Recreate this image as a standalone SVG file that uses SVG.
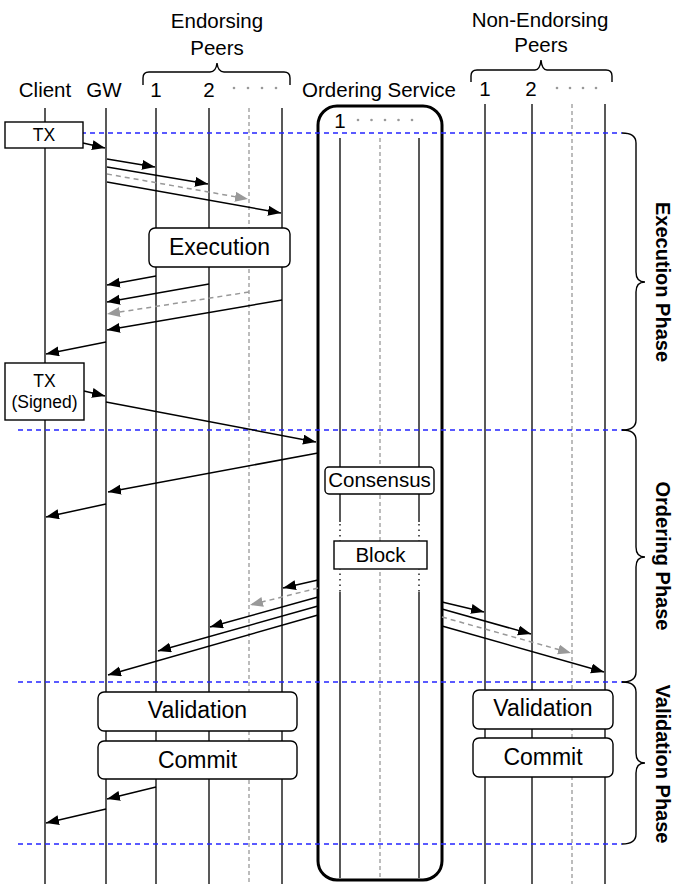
<svg xmlns="http://www.w3.org/2000/svg" width="676" height="884" viewBox="0 0 676 884">
<style>
text{font-family:"Liberation Sans",Arial,sans-serif;fill:#000}
.hd{font-size:20.5px;text-anchor:middle}
.bx{font-size:23px;text-anchor:middle}
.sm{font-size:17.5px;text-anchor:middle}
.ph{font-size:20px;font-weight:bold;text-anchor:middle}
.life{stroke:#222;stroke-width:1.5;fill:none}
.gl{stroke:#999;stroke-width:1.3;stroke-dasharray:4,3;fill:none}
.dot{stroke:#222;stroke-width:1.5;stroke-dasharray:1.5,4;fill:none}
.sep{stroke:#2424ff;stroke-width:1.5;stroke-dasharray:5,4;fill:none}
.brace{stroke:#000;stroke-width:1.4;fill:none}
.box{fill:#fff;stroke:#000;stroke-width:1.4}
.a{stroke:#000;stroke-width:1.5;fill:none;marker-end:url(#ah)}
.ag{stroke:#999;stroke-width:1.5;stroke-dasharray:5,4;fill:none;marker-end:url(#ahg)}
.gd{fill:#999}
</style>
<defs>
<marker id="ah" markerUnits="userSpaceOnUse" markerWidth="14" markerHeight="12" refX="13" refY="5" orient="auto"><path d="M0,0 L13,5 L0,10 Z" fill="#000"/></marker>
<marker id="ahg" markerUnits="userSpaceOnUse" markerWidth="14" markerHeight="12" refX="13" refY="5" orient="auto"><path d="M0,0 L13,5 L0,10 Z" fill="#999"/></marker>
</defs>
<rect width="676" height="884" fill="#fff"/>

<!-- headers -->
<g id="headers">
<text class="hd" x="217" y="28">Endorsing</text>
<text class="hd" x="217" y="55">Peers</text>
<path class="brace" d="M143,85 V78 Q143,72 149,72 H210 Q216,72 217,63 Q218,72 224,72 H284 Q290,72 290,78 V85"/>
<text class="hd" x="540" y="27">Non-Endorsing</text>
<text class="hd" x="541" y="52">Peers</text>
<path class="brace" d="M471,82 V76 Q471,70 477,70 H535 Q540,70 541,60 Q542,70 547,70 H606 Q612,70 612,76 V82"/>
<text class="hd" x="45" y="97">Client</text>
<text class="hd" x="104" y="97">GW</text>
<text class="hd" x="156" y="97">1</text>
<text class="hd" x="209" y="97">2</text>
<circle class="gd" cx="234" cy="88" r="1.3"/><circle class="gd" cx="248" cy="88" r="1.3"/><circle class="gd" cx="262" cy="88" r="1.3"/><circle class="gd" cx="276" cy="88" r="1.3"/>
<text class="hd" x="379" y="97">Ordering Service</text>
<text class="hd" x="485" y="96">1</text>
<text class="hd" x="531" y="96">2</text>
<circle class="gd" cx="557" cy="88" r="1.3"/><circle class="gd" cx="570" cy="88" r="1.3"/><circle class="gd" cx="583" cy="88" r="1.3"/><circle class="gd" cx="596" cy="88" r="1.3"/>
</g>

<!-- lifelines -->
<g id="lifelines">
<line class="life" x1="45" y1="108" x2="45" y2="884"/>
<line class="life" x1="106" y1="108" x2="106" y2="884"/>
<line class="life" x1="156" y1="108" x2="156" y2="884"/>
<line class="life" x1="209" y1="108" x2="209" y2="884"/>
<line class="gl" x1="249" y1="108" x2="249" y2="884"/>
<line class="life" x1="282" y1="108" x2="282" y2="884"/>
<line class="life" x1="485" y1="104" x2="485" y2="884"/>
<line class="life" x1="532" y1="104" x2="532" y2="884"/>
<line class="gl" x1="572" y1="104" x2="572" y2="884"/>
<line class="life" x1="605" y1="104" x2="605" y2="884"/>
</g>

<!-- ordering service -->
<g id="ordering">
<rect x="318" y="106" width="124" height="774" rx="19" fill="none" stroke="#000" stroke-width="3"/>
<text class="hd" x="340" y="128">1</text>
<circle class="gd" cx="358" cy="120" r="1.3"/><circle class="gd" cx="371.5" cy="120" r="1.3"/><circle class="gd" cx="385" cy="120" r="1.3"/><circle class="gd" cx="398.5" cy="120" r="1.3"/><circle class="gd" cx="412" cy="120" r="1.3"/>
<line class="life" x1="340" y1="138" x2="340" y2="522"/>
<line class="life" x1="419" y1="138" x2="419" y2="522"/>
<line class="dot" x1="340" y1="524" x2="340" y2="592"/>
<line class="dot" x1="419" y1="524" x2="419" y2="592"/>
<line class="life" x1="340" y1="592" x2="340" y2="878"/>
<line class="life" x1="419" y1="592" x2="419" y2="878"/>
<line class="gl" x1="380" y1="138" x2="380" y2="878"/>
</g>

<!-- phase separators and braces -->
<g id="phases">
<line class="sep" x1="18" y1="133" x2="622" y2="133"/>
<line class="sep" x1="18" y1="430" x2="622" y2="430"/>
<line class="sep" x1="18" y1="682" x2="622" y2="682"/>
<line class="sep" x1="18" y1="844" x2="622" y2="844"/>
<path class="brace" d="M622,133 Q636,133 636,143 V272 Q636,282 645,282 Q636,282 636,292 V420 Q636,430 622,430"/>
<path class="brace" d="M622,430 Q636,430 636,440 V547 Q636,557 645,557 Q636,557 636,567 V672 Q636,682 622,682"/>
<path class="brace" d="M622,682 Q636,682 636,692 V753 Q636,763 645,763 Q636,763 636,773 V834 Q636,844 622,844"/>
<text class="ph" transform="translate(656,282) rotate(90)">Execution Phase</text>
<text class="ph" transform="translate(656,556) rotate(90)">Ordering Phase</text>
<text class="ph" transform="translate(656,764) rotate(90)">Validation Phase</text>
</g>

<!-- connectors -->
<g id="connectors">
<line class="a" x1="83" y1="143" x2="105" y2="148"/>
<line class="a" x1="107" y1="159" x2="155" y2="167"/>
<line class="a" x1="107" y1="167" x2="208" y2="184"/>
<line class="ag" x1="107" y1="174" x2="248" y2="199"/>
<line class="a" x1="107" y1="182" x2="281" y2="213"/>
<line class="a" x1="156" y1="276" x2="107" y2="285"/>
<line class="a" x1="209" y1="284" x2="107" y2="302"/>
<line class="ag" x1="249" y1="292" x2="107" y2="314"/>
<line class="a" x1="282" y1="300" x2="107" y2="330"/>
<line class="a" x1="106" y1="342" x2="46" y2="354"/>
<line class="a" x1="84" y1="391" x2="105" y2="396"/>
<line class="a" x1="106" y1="402" x2="316" y2="442"/>
<line class="a" x1="318" y1="453" x2="108" y2="492"/>
<line class="a" x1="106" y1="504" x2="46" y2="517"/>
<line class="a" x1="318" y1="580" x2="283" y2="588"/>
<line class="ag" x1="318" y1="588" x2="250" y2="605"/>
<line class="a" x1="318" y1="597" x2="210" y2="627"/>
<line class="a" x1="318" y1="606" x2="158" y2="651"/>
<line class="a" x1="318" y1="615" x2="108" y2="675"/>
<line class="a" x1="442" y1="602" x2="484" y2="612"/>
<line class="a" x1="442" y1="609" x2="531" y2="634"/>
<line class="ag" x1="442" y1="617" x2="571" y2="653"/>
<line class="a" x1="442" y1="626" x2="604" y2="672"/>
<line class="a" x1="156" y1="787" x2="107" y2="799"/>
<line class="a" x1="106" y1="809" x2="46" y2="823"/>
</g>

<!-- nodes -->
<g id="tx">
<rect class="box" x="5" y="122" width="78" height="26"/>
<text class="sm" x="44" y="141">TX</text>
</g>
<g id="execution">
<rect class="box" x="149" y="228" width="141" height="39" rx="6"/>
<text class="bx" x="219.5" y="255">Execution</text>
</g>
<g id="tx-signed">
<rect class="box" x="5" y="363" width="79" height="57"/>
<text class="sm" x="44.5" y="387">TX</text>
<text class="sm" x="44.5" y="408">(Signed)</text>
</g>
<g id="consensus">
<rect class="box" x="325" y="467" width="109" height="27" rx="4"/>
<text class="hd" x="379.5" y="487">Consensus</text>
</g>
<g id="block">
<rect class="box" x="334" y="541" width="93" height="28"/>
<text class="hd" x="380.5" y="562">Block</text>
</g>
<g id="validation-left">
<rect class="box" x="98" y="692" width="199" height="39" rx="6"/>
<text class="bx" x="197.5" y="718">Validation</text>
</g>
<g id="commit-left">
<rect class="box" x="98" y="741" width="199" height="38" rx="6"/>
<text class="bx" x="197.5" y="768">Commit</text>
</g>
<g id="validation-right">
<rect class="box" x="473" y="690" width="140" height="39" rx="6"/>
<text class="bx" x="543" y="716">Validation</text>
</g>
<g id="commit-right">
<rect class="box" x="473" y="738" width="140" height="39" rx="6"/>
<text class="bx" x="543" y="765">Commit</text>
</g>
</svg>
